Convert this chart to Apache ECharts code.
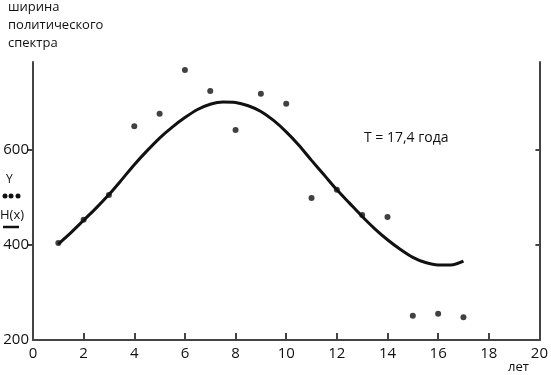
<!DOCTYPE html>
<html><head><meta charset="utf-8">
<script src="https://cdn.jsdelivr.net/npm/echarts@6/dist/echarts.min.js"></script>
<style>html,body{margin:0;padding:0;background:#fff}#c{width:551px;height:375px}</style>
</head><body><div id="c"></div>
<script>
const years = [1,2,3,4,5,6,7,8,9,10,11,12,13,14,15,16,17];
const spectrumY = [404,453,505,650,676,768,724,642,718,697,499,516,463,459,251,255,248];
const fitX = [1,1.5,2,2.5,3,3.5,4,4.5,5,5.5,6,6.5,7,7.5,8,8.5,9,9.5,10,10.5,11,11.5,12,12.5,13,13.5,14,14.5,15,15.5,16,16.5,17];
const fitH = [402,426,452,478,506,537,569,598,625,648,668,685,696,701,700,693,681,662,638,610,578,547,516,488,460,434,411,391,374,363,358,358,366];
const xTicks = [0,2,4,6,8,10,12,14,16,18,20];
const yTicks = [200,400,600];

const FONT = '"Open Sans", "Noto Sans", sans-serif';
const TXT = '#111';
const chart = echarts.init(document.getElementById('c'));
const axisCol = '#444';
chart.setOption({
  animation:false,
  grid:{left:33,right:8,top:62,bottom:35},
  xAxis:{type:'value',min:0,max:20,interval:2,
    axisLine:{lineStyle:{color:axisCol,width:2}},
    axisTick:{inside:true,length:7,lineStyle:{color:axisCol,width:2},customValues:xTicks.slice(1,-1)},
    axisLabel:{color:TXT,fontSize:15,fontFamily:FONT,margin:6,customValues:xTicks},
    splitLine:{show:false}},
  yAxis:[{type:'value',min:200,max:785,
    axisLine:{show:true,lineStyle:{color:axisCol,width:2}},
    axisTick:{show:true,length:5,lineStyle:{color:axisCol,width:2},customValues:yTicks.slice(1)},
    axisLabel:{color:TXT,fontSize:15,fontFamily:FONT,margin:4,customValues:yTicks},
    splitLine:{show:false}},
    {type:'value',min:200,max:785,position:'right',
    axisLine:{show:true,lineStyle:{color:axisCol,width:2}},
    axisTick:{show:true,inside:true,length:4,lineStyle:{color:axisCol,width:2},customValues:yTicks.slice(1)},
    axisLabel:{show:false},splitLine:{show:false}}],
  series:[
    {type:'line',data:fitX.map((x,i)=>[x,fitH[i]]),smooth:0.3,showSymbol:false,
     lineStyle:{color:'#111',width:3},z:2},
    {type:'scatter',data:years.map((x,i)=>[x,spectrumY[i]]),symbolSize:6,
     itemStyle:{color:'#111'},z:3}
  ],
  graphic:[
    {type:'text',left:8,top:1,style:{text:'ширина',font:'13px '+FONT,fill:TXT}},
    {type:'text',left:8,top:19,style:{text:'политического',font:'13px '+FONT,fill:TXT}},
    {type:'text',left:8,top:37,style:{text:'спектра',font:'13px '+FONT,fill:TXT}},
    {type:'text',left:364,top:131,style:{text:'T = 17,4 года',font:'14px '+FONT,fill:TXT}},
    {type:'text',left:508,top:361,style:{text:'лет',font:'13px '+FONT,fill:TXT}},
    {type:'text',left:6,top:174,style:{text:'Y',font:'12px '+FONT,fill:TXT}},
    {type:'circle',shape:{cx:5,cy:196,r:2.5},style:{fill:'#111'}},
    {type:'circle',shape:{cx:11,cy:196,r:2.5},style:{fill:'#111'}},
    {type:'circle',shape:{cx:18,cy:196,r:2.5},style:{fill:'#111'}},
    {type:'text',left:0,top:209,style:{text:'H(x)',font:'13px '+FONT,fill:TXT}},
    {type:'line',shape:{x1:3,y1:227,x2:19,y2:227},style:{stroke:'#111',lineWidth:2.5}}
  ]
});
</script></body></html>
